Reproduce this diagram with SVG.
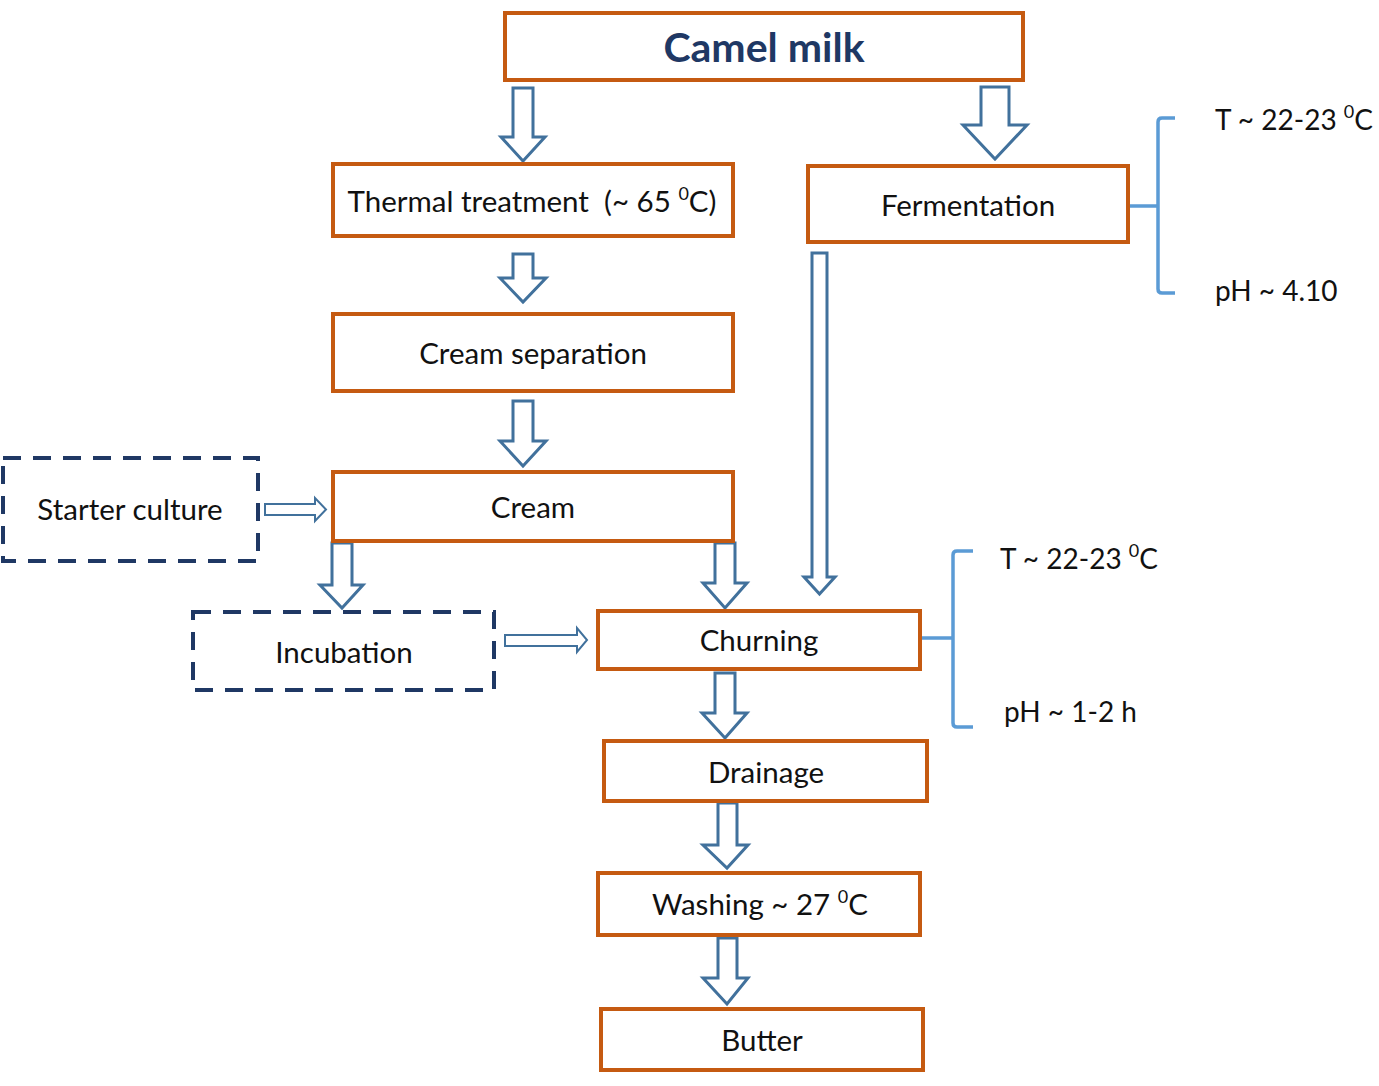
<svg xmlns="http://www.w3.org/2000/svg" width="1379" height="1086" viewBox="0 0 1379 1086">
<style>
.box{fill:#fff;stroke:#C55A11;stroke-width:4}
.dash{fill:#fff;stroke:#1F3864;stroke-width:4;stroke-dasharray:18 12}
.arr{fill:#fff;stroke:#41719C;stroke-width:3;stroke-linejoin:miter}
.thin{fill:#fff;stroke:#41719C;stroke-width:2}
.brace{fill:none;stroke:#5B9BD5;stroke-width:3.5}
text{font-family:Lato,"Open Sans","Liberation Sans",sans-serif;font-size:29.5px;fill:#111}
.c{text-anchor:middle}
.title{font-weight:bold;font-size:41px;fill:#1F3864}
.cond{font-size:28px}
.sup{font-size:18px}
</style>
<rect width="1379" height="1086" fill="#fff"/>
<g id="connectors">
<path class="arr" d="M513,88 H533 V137 H545 L523,161 L501,137 H513 Z"/>
<path class="arr" d="M981,87 H1009 V125 H1027 L995,159 L963,125 H981 Z"/>
<path class="arr" d="M513,254 H533 V278 H546 L523,302 L500,278 H513 Z"/>
<path class="arr" d="M513,401 H533 V441 H546 L523,466 L500,441 H513 Z"/>
<path class="arr" d="M332,543 H352 V585 H363 L342,608 L320,585 H332 Z"/>
<path class="arr" d="M715,543 H735 V583 H747 L725,608 L703,583 H715 Z"/>
<path class="arr" d="M812,253 H827 V577 H835 L819.5,594 L804,577 H812 Z"/>
<path class="arr" d="M715,673 H735 V713 H747 L725,738 L702,713 H715 Z"/>
<path class="arr" d="M718,803 H737 V845 H748 L727,868 L703,845 H718 Z"/>
<path class="arr" d="M718,938 H737 V978 H748 L727,1004 L703,978 H718 Z"/>
<path class="thin" d="M265,504 H315 V498 L326,509.5 L315,521 V515 H265 Z"/>
<path class="thin" d="M505,635 H577 V628 L587,640 L577,652 V646 H505 Z"/>
<path class="brace" d="M1128,206 H1158 M1175,118 H1162 Q1158,118 1158,122 V289 Q1158,293 1162,293 H1175"/>
<path class="brace" d="M920,638 H953 M973,551 H957 Q953,551 953,555 V723 Q953,727 957,727 H973"/>
</g>
<g id="camel-milk">
<rect class="box" x="505" y="13" width="518" height="67"/>
<text class="c title" x="764" y="62">Camel milk</text>
</g>
<g id="thermal-treatment">
<rect class="box" x="333" y="164" width="400" height="72"/>
<text class="c" x="532" y="212" xml:space="preserve">Thermal treatment  (~ 65 <tspan class="sup" dy="-12">0</tspan><tspan dy="12">C)</tspan></text>
</g>
<g id="fermentation">
<rect class="box" x="808" y="166" width="320" height="76"/>
<text class="c" x="968" y="216">Fermentation</text>
</g>
<g id="cream-separation">
<rect class="box" x="333" y="314" width="400" height="77"/>
<text class="c" x="533" y="364">Cream separation</text>
</g>
<g id="cream">
<rect class="box" x="333" y="472" width="400" height="69"/>
<text class="c" x="533" y="518">Cream</text>
</g>
<g id="starter-culture">
<rect class="dash" x="3" y="458" width="255" height="103"/>
<text class="c" x="130" y="520">Starter culture</text>
</g>
<g id="incubation">
<rect class="dash" x="193" y="612" width="301" height="78"/>
<text class="c" x="344" y="663">Incubation</text>
</g>
<g id="churning">
<rect class="box" x="598" y="611" width="322" height="58"/>
<text class="c" x="759" y="651">Churning</text>
</g>
<g id="drainage">
<rect class="box" x="604" y="741" width="323" height="60"/>
<text class="c" x="766" y="783">Drainage</text>
</g>
<g id="washing">
<rect class="box" x="598" y="873" width="322" height="62"/>
<text class="c" x="760" y="915">Washing ~ 27 <tspan class="sup" dy="-12">0</tspan><tspan dy="12">C</tspan></text>
</g>
<g id="butter">
<rect class="box" x="601" y="1009" width="322" height="61"/>
<text class="c" x="762" y="1051">Butter</text>
</g>
<g id="fermentation-conditions">
<text class="cond" x="1215" y="130">T ~ 22-23 <tspan class="sup" dy="-12">0</tspan><tspan dy="12">C</tspan></text>
<text class="cond" x="1215" y="301">pH ~ 4.10</text>
</g>
<g id="churning-conditions">
<text class="cond" x="1000" y="569">T ~ 22-23 <tspan class="sup" dy="-12">0</tspan><tspan dy="12">C</tspan></text>
<text class="cond" x="1004" y="722">pH ~ 1-2 h</text>
</g>
</svg>
